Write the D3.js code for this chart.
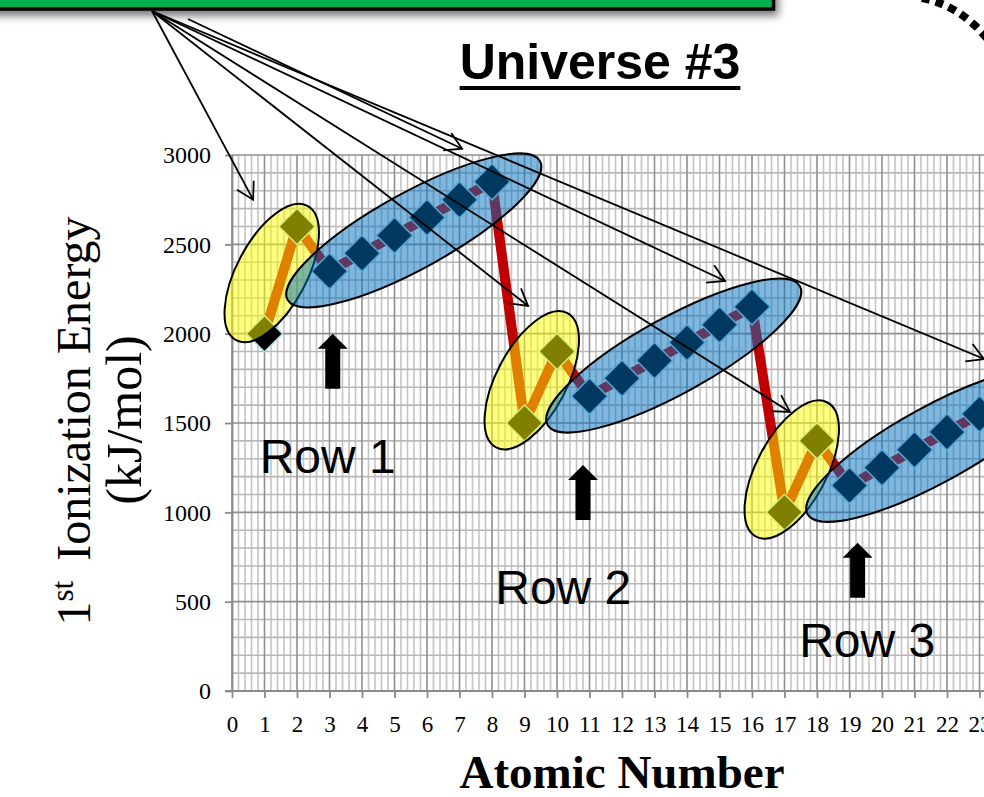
<!DOCTYPE html>
<html>
<head>
<meta charset="utf-8">
<script src="https://cdn.jsdelivr.net/npm/d3@7"></script>
<style>
  html, body { margin: 0; padding: 0; background: #ffffff; overflow: hidden; }
  svg { display: block; }
</style>
</head>
<body>
<svg id="chart" width="984" height="797"></svg>
<script>
// First ionization energy (kJ/mol) against atomic number, "Universe #3"
const atomicNumbers = [1, 2, 3, 4, 5, 6, 7, 8, 9, 10, 11, 12, 13, 14, 15, 16, 17, 18, 19, 20, 21, 22, 23];
const ionizationEnergy = [2000, 2600, 2350, 2450, 2550, 2650, 2750, 2850, 1500, 1900,
                          1650, 1750, 1850, 1950, 2050, 2150, 1000, 1400, 1150, 1250, 1350, 1450, 1550];
const xTickValues = d3.range(0, 25);          // 0 .. 24
const yTickValues = [0, 500, 1000, 1500, 2000, 2500, 3000];

// element blocks circled on the chart: [first, last] atomic number
const blockKinds = ["s", "p", "s", "p", "s", "p"];
const blockFirst = [1, 3, 9, 11, 17, 19];
const blockLast  = [2, 8, 10, 16, 18, 24];

// rows of the table, marked with a block arrow and a label
const rowNames = ["Row 1", "Row 2", "Row 3"];
const rowArrowX = [3.1, 10.8, 19.25];
const rowArrowY = [2000, 1265, 830];
const rowLabelX = [0.85, 8.1, 17.45];
const rowLabelY = [1222, 487, 190];

// call-out arrows from the caption box to each block
const calloutTipX = [0.65, 7.08, 9.11, 15.17, 17.17, 23.14];
const calloutTipY = [2750, 3035, 2155, 2295, 1562, 1858];
const calloutFromSecond = [false, true, false, false, false, false];

const data = atomicNumbers.map((n, i) => ({ n, e: ionizationEnergy[i] }));

const svg = d3.select("#chart");
const W = 984, H = 797;

const x = d3.scaleLinear().domain([0, 25]).range([232, 232 + 25 * 32.5]);
const y = d3.scaleLinear().domain([0, 3000]).range([691, 155]);

const defs = svg.append("defs");
const shadow = defs.append("filter").attr("id", "boxShadow")
  .attr("x", "-5%").attr("y", "-50%").attr("width", "110%").attr("height", "300%");
shadow.append("feDropShadow").attr("dx", 3).attr("dy", 5).attr("stdDeviation", 4)
  .attr("flood-color", "#000").attr("flood-opacity", 0.55);

// ---------- grid ----------
const grid = svg.append("g").attr("class", "grid");
const xMinor = d3.range(0, 25 * 5 + 1).map(k => k / 5);
const yMinor = d3.range(0, 31).map(k => k * 100);

grid.selectAll("line.vminor").data(xMinor.filter(v => Math.abs(v - Math.round(v)) > 1e-6))
  .join("line").attr("class", "vminor")
  .attr("x1", d => x(d)).attr("x2", d => x(d))
  .attr("y1", y(0)).attr("y2", y(3000))
  .attr("stroke", "#c4c4c4").attr("stroke-width", 1.6);
grid.selectAll("line.hminor").data(yMinor.filter(v => v % 500 !== 0))
  .join("line").attr("class", "hminor")
  .attr("x1", x(0)).attr("x2", W + 10)
  .attr("y1", d => y(d)).attr("y2", d => y(d))
  .attr("stroke", "#b8b8b8").attr("stroke-width", 1.6);
grid.selectAll("line.vmajor").data(xTickValues)
  .join("line").attr("class", "vmajor")
  .attr("x1", d => x(d)).attr("x2", d => x(d))
  .attr("y1", y(0)).attr("y2", y(3000))
  .attr("stroke", "#8f8f8f").attr("stroke-width", 1.6);
grid.selectAll("line.hmajor").data(yTickValues)
  .join("line").attr("class", "hmajor")
  .attr("x1", x(0)).attr("x2", W + 10)
  .attr("y1", d => y(d)).attr("y2", d => y(d))
  .attr("stroke", "#8f8f8f").attr("stroke-width", 1.6);

// ---------- axes ----------
const serif = "'Liberation Serif','Times New Roman',serif";
const sans = "'Liberation Sans',Arial,sans-serif";

const xAxis = svg.append("g").attr("transform", `translate(0,${y(0)})`)
  .call(d3.axisBottom(x).tickValues(xTickValues).tickSize(7).tickSizeOuter(0).tickPadding(18)
    .tickFormat(d3.format("d")));
const yAxis = svg.append("g").attr("transform", `translate(${x(0)},0)`)
  .call(d3.axisLeft(y).tickValues(yTickValues).tickSize(7).tickSizeOuter(0).tickPadding(14)
    .tickFormat(d3.format("d")));
[xAxis, yAxis].forEach(g => {
  g.select(".domain").attr("stroke", "#8a8a8a").attr("stroke-width", 1.8);
  g.selectAll(".tick line").attr("stroke", "#8a8a8a").attr("stroke-width", 1.8);
  g.selectAll(".tick text").attr("fill", "#000").attr("font-family", serif);
});
xAxis.selectAll(".tick text").attr("font-size", 23);
yAxis.selectAll(".tick text").attr("font-size", 24);
// extend the x axis line left to meet the y tick
xAxis.select(".domain").attr("d", `M${x(0) - 7},0H${W + 10}`);

// ---------- series ----------
const line = d3.line().x(d => x(d.n)).y(d => y(d.e));
svg.append("path").datum(data)
  .attr("d", line)
  .attr("fill", "none")
  .attr("stroke", "#c00000")
  .attr("stroke-width", 10)
  .attr("stroke-linejoin", "round");

const diamond = d3.symbol().type(d3.symbolSquare).size(650);
svg.append("g").selectAll("path").data(data).join("path")
  .attr("d", diamond)
  .attr("transform", d => `translate(${x(d.n)},${y(d.e)}) rotate(45)`)
  .attr("fill", "#000000")
  .attr("stroke", "#a6dbe6")
  .attr("stroke-width", 1.5);

// ---------- block ellipses ----------
const energyOf = n => {
  // value on the block's straight run; blocks continue past the last plotted element
  const found = data.find(d => d.n === n);
  if (found) return found.e;
  const a = data[data.length - 2], b = data[data.length - 1];
  return b.e + (b.e - a.e) * (n - b.n);
};
const blocks = blockKinds.map((k, i) => {
  const f = blockFirst[i], l = blockLast[i];
  const x1 = x(f), y1 = y(energyOf(f)), x2 = x(l), y2 = y(energyOf(l));
  return { kind: k, x1, y1, x2, y2 };
});
const ellGroup = svg.append("g");
function drawEllipse(b) {
  let cx = (b.x1 + b.x2) / 2, cy = (b.y1 + b.y2) / 2, rx, ry, ang;
  if (b.kind === "s") {
    cx -= 9; cy -= 7; rx = 76; ry = 35; ang = -62;
  } else {
    const slope = Math.atan2(b.y2 - b.y1, b.x2 - b.x1) * 180 / Math.PI;
    cx += 3; cy += 4; rx = 144; ry = 38; ang = slope;
  }
  ellGroup.append("ellipse")
    .attr("cx", 0).attr("cy", 0).attr("rx", rx).attr("ry", ry)
    .attr("transform", `translate(${cx},${cy}) rotate(${ang})`)
    .attr("fill", b.kind === "s" ? "rgba(255,255,0,0.5)" : "rgba(0,112,192,0.5)")
    .attr("stroke", "#000").attr("stroke-width", 2);
}
blocks.filter(b => b.kind === "s").forEach(drawEllipse);
blocks.filter(b => b.kind === "p").forEach(drawEllipse);

// ---------- row arrows and labels ----------
const blockArrow = "M0,0 L15,15 L7.5,15 L7.5,55 L-7.5,55 L-7.5,15 L-15,15 Z";
svg.append("g").selectAll("path").data(rowNames).join("path")
  .attr("d", blockArrow)
  .attr("transform", (d, i) => `translate(${x(rowArrowX[i])},${y(rowArrowY[i])})`)
  .attr("fill", "#000");
svg.append("g").selectAll("text").data(rowNames).join("text")
  .attr("x", (d, i) => x(rowLabelX[i]))
  .attr("y", (d, i) => y(rowLabelY[i]))
  .attr("font-family", sans).attr("font-size", 48).attr("fill", "#000")
  .text(d => d);

// ---------- caption box ----------
svg.append("rect")
  .attr("x", -20).attr("y", -20).attr("width", 793.5).attr("height", 29)
  .attr("fill", "#00b050").attr("stroke", "#000").attr("stroke-width", 3.5)
  .attr("filter", "url(#boxShadow)");

// dashed outline entering at the top-right corner
svg.append("path")
  .attr("d", "M922,-2 Q962,6 990,42")
  .attr("fill", "none").attr("stroke", "#000").attr("stroke-width", 8)
  .attr("stroke-dasharray", "8 6");

// ---------- call-out arrows ----------
const origins = [[152, 11], [188, 19]];
const calloutG = svg.append("g").attr("stroke", "#000").attr("stroke-width", 1.8).attr("fill", "none");
calloutTipX.forEach((tx, i) => {
  const [ox, oy] = origins[calloutFromSecond[i] ? 1 : 0];
  const px = x(tx), py = y(calloutTipY[i]);
  calloutG.append("line").attr("x1", ox).attr("y1", oy).attr("x2", px).attr("y2", py);
  const back = Math.atan2(oy - py, ox - px);
  const arm = 19, spread = Math.PI / 6;
  const a1 = [px + arm * Math.cos(back + spread), py + arm * Math.sin(back + spread)];
  const a2 = [px + arm * Math.cos(back - spread), py + arm * Math.sin(back - spread)];
  calloutG.append("path").attr("d", `M${a1[0]},${a1[1]} L${px},${py} L${a2[0]},${a2[1]}`);
});

// ---------- titles ----------
const title = svg.append("text")
  .attr("x", 600).attr("y", 79).attr("text-anchor", "middle")
  .attr("font-family", sans).attr("font-weight", "bold").attr("font-size", 50)
  .attr("fill", "#000").text("Universe #3");
const tb = title.node().getBBox();
svg.append("rect").attr("x", tb.x).attr("y", 86).attr("width", tb.width).attr("height", 4).attr("fill", "#000");

svg.append("text")
  .attr("x", 622).attr("y", 788).attr("text-anchor", "middle")
  .attr("font-family", serif).attr("font-weight", "bold").attr("font-size", 47)
  .attr("fill", "#000").text("Atomic Number");

const yTitle1 = svg.append("text")
  .attr("transform", "translate(90,421) rotate(-90)")
  .attr("text-anchor", "middle")
  .attr("font-family", serif).attr("font-size", 48).attr("fill", "#000");
yTitle1.append("tspan").text("1");
yTitle1.append("tspan").attr("font-size", 31).attr("dy", -17).text("st");
yTitle1.append("tspan").attr("dy", 17).attr("dx", 20).text("Ionization Energy");

svg.append("text")
  .attr("transform", "translate(141,420) rotate(-90)")
  .attr("text-anchor", "middle")
  .attr("font-family", serif).attr("font-size", 50).attr("fill", "#000")
  .text("(kJ/mol)");
</script>
</body>
</html>
